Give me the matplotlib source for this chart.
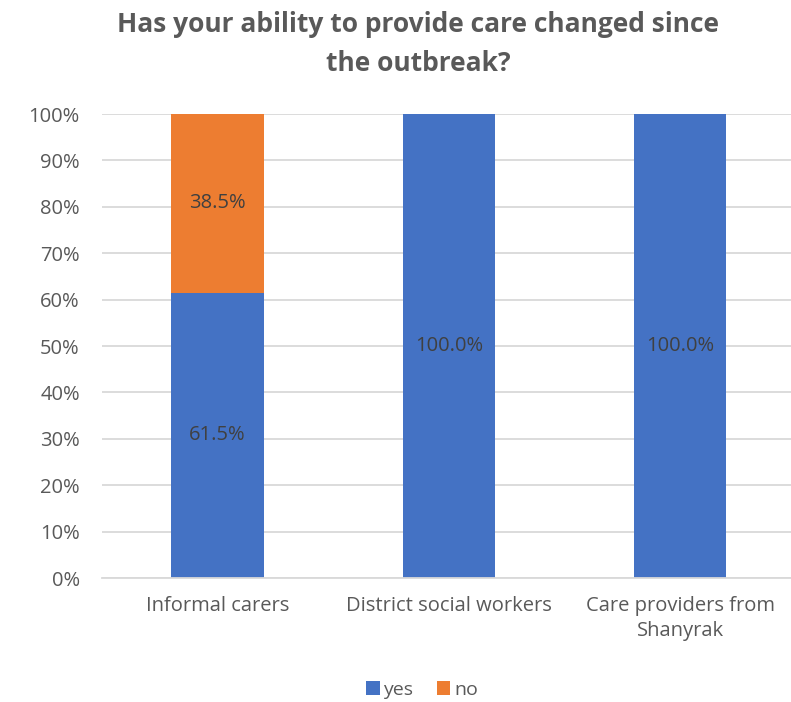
import matplotlib.pyplot as plt
import numpy as np

plt.rcParams['font.family'] = ['Open Sans', 'DejaVu Sans']

categories = ['Informal carers', 'District social workers', 'Care providers from\nShanyrak']
yes_vals = [61.5, 100.0, 100.0]
no_vals = [38.5, 0.0, 0.0]
yticks = [0, 10, 20, 30, 40, 50, 60, 70, 80, 90, 100]

blue = '#4472C4'
orange = '#ED7D31'
text_grey = '#595959'
label_grey = '#404040'

fig = plt.figure(figsize=(7.91, 7.02), dpi=100)
ax = fig.add_axes([102 / 791, 1 - 578 / 702, 1 - 102 / 791, (578 - 114) / 702])

x = np.arange(len(categories))
b1 = ax.bar(x, yes_vals, width=0.4, color=blue, label='yes', zorder=2)
b2 = ax.bar(x, no_vals, width=0.4, bottom=yes_vals, color=orange, label='no', zorder=2)

for i in range(len(categories)):
    ax.text(x[i], yes_vals[i] / 2, '%.1f%%' % yes_vals[i], ha='center', va='center',
            fontsize=14.5, color=label_grey, zorder=3)
    if no_vals[i] > 0:
        ax.text(x[i], yes_vals[i] + no_vals[i] / 2, '%.1f%%' % no_vals[i], ha='center',
                va='center', fontsize=14.5, color=label_grey, zorder=3)

ax.set_xlim(-0.5, 2.48)
ax.set_ylim(0, 100)
ax.set_yticks(yticks)
ax.set_yticklabels(['%d%%' % v for v in yticks])
ax.set_xticks(x)
ax.set_xticklabels(categories, linespacing=1.35)
ax.tick_params(axis='both', length=0, labelsize=14.5, colors=text_grey)
ax.tick_params(axis='y', pad=16)
ax.tick_params(axis='x', pad=13)
ax.yaxis.grid(True, color='#D9D9D9', linewidth=1.3, zorder=0)
for s in ['top', 'right', 'left']:
    ax.spines[s].set_visible(False)
ax.spines['bottom'].set_color('#D9D9D9')
ax.spines['bottom'].set_linewidth(1.3)

fig.text(418 / 791, 1 - 44 / 702, 'Has your ability to provide care changed since\nthe outbreak?',
         ha='center', va='center', fontsize=19, fontweight='bold', color=text_grey,
         linespacing=1.55)

fig.legend(handles=[b1, b2], labels=['yes', 'no'], loc='center',
           bbox_to_anchor=(422 / 791, 1 - 690 / 702),
           ncol=2, frameon=False, fontsize=14, handlelength=0.7, handleheight=0.7,
           handletextpad=0.2, columnspacing=1.2, labelcolor=text_grey)

fig.savefig('out.png', dpi=100)
